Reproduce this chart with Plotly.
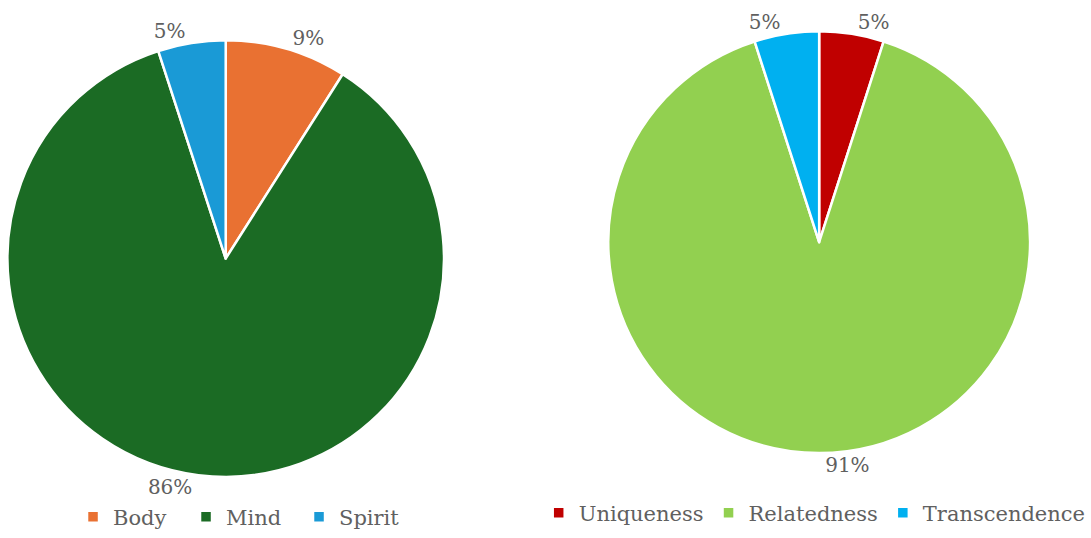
import plotly.graph_objects as go

left_labels = ["Body", "Mind", "Spirit"]
left_values = [9, 86, 5]
left_colors = ["#E97132", "#1B6B24", "#1A9AD6"]

right_labels = ["Uniqueness", "Relatedness", "Transcendence"]
right_values = [5, 91, 5]
right_colors = ["#C00000", "#92D050", "#00B0F0"]

W, H = 1091, 538
GRAY = "#606060"
font_txt = dict(family="DejaVu Serif", size=20, color=GRAY)

def px_x(a, b):
    return [a / W, b / W]

def px_y(top, bottom):
    return [1 - bottom / H, 1 - top / H]

fig = go.Figure()
fig.add_trace(go.Pie(
    labels=left_labels, values=left_values, sort=False, direction="clockwise", rotation=0,
    marker=dict(colors=left_colors, line=dict(color="white", width=2.5)),
    textposition="outside", texttemplate="%{value}%", textfont=font_txt,
    domain=dict(x=px_x(7.5, 448.5), y=px_y(40, 481)), legend="legend", hoverinfo="label+value",
))
fig.add_trace(go.Pie(
    labels=right_labels, values=right_values, sort=False, direction="clockwise", rotation=0,
    marker=dict(colors=right_colors, line=dict(color="white", width=2.5)),
    textposition="outside", texttemplate="%{value}%", textfont=font_txt,
    domain=dict(x=px_x(614.5, 1040.5), y=px_y(30.5, 457.5)), legend="legend2", hoverinfo="label+value",
))
leg_font = dict(family="DejaVu Serif", size=21, color=GRAY)
fig.update_layout(
    width=W, height=H, margin=dict(l=0, r=0, t=0, b=0),
    paper_bgcolor="white", plot_bgcolor="white",
    font=dict(family="DejaVu Serif", color=GRAY),
    legend=dict(orientation="h", x=245 / W, y=1 - 521 / H, xanchor="center", yanchor="middle",
                font=leg_font, entrywidth=68, tracegroupgap=0),
    legend2=dict(orientation="h", x=823 / W, y=1 - 517 / H, xanchor="center", yanchor="middle",
                 font=leg_font, itemwidth=30, tracegroupgap=0),
)
fig.write_html("out.html", config={"displayModeBar": False},
               post_script="document.body.style.margin='0px';")
